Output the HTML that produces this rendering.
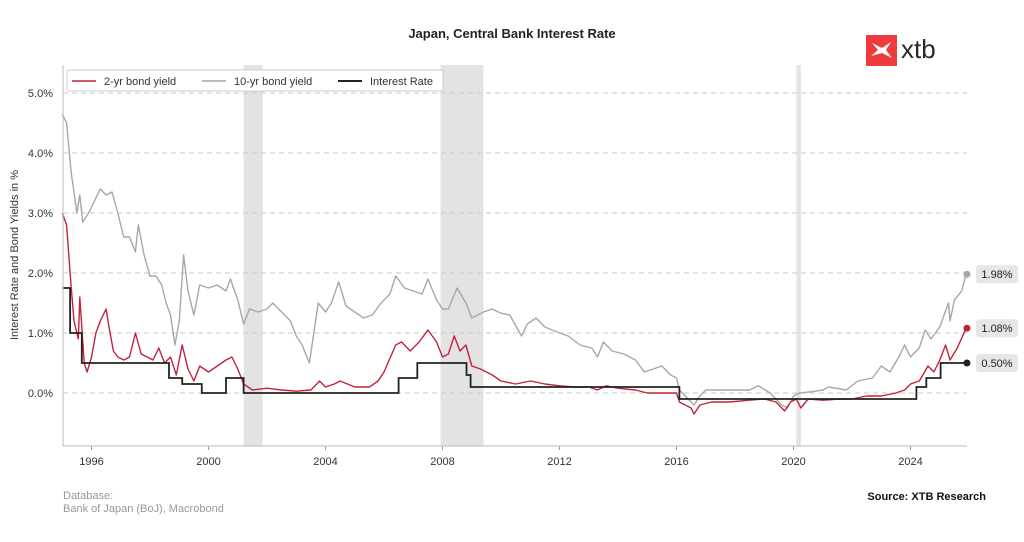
<!DOCTYPE html>
<html><head><meta charset="utf-8"><style>
html,body{margin:0;padding:0;background:#fff;width:1024px;height:542px;overflow:hidden}
svg{display:block;font-family:"Liberation Sans",Arial,sans-serif}
</style></head><body>
<svg id="chart" width="1024" height="542" viewBox="0 0 1024 542">
<text x="512" y="38" text-anchor="middle" font-size="13" font-weight="bold" fill="#222">Japan, Central Bank Interest Rate</text>
<g>
<rect x="866" y="35" width="31" height="31" fill="#ee3b3b"/>
<path d="M872 43 L882 48 L891 42 L886 50 L892 58 L882 53 L871 56 L878 50 Z" fill="#fff"/>
<text x="901" y="58" font-size="26" fill="#2a2a2a">xtb</text>
</g>
<g id="bands"></g><g id="grid"></g><g id="series"></g><g id="axes"></g>
<text transform="translate(18,255) rotate(-90)" text-anchor="middle" font-size="11" fill="#333">Interest Rate and Bond Yields in %</text>
<g>
<rect x="67" y="70" width="376" height="21" fill="#fff" stroke="#ccc" rx="2"/>
<line x1="72" y1="81" x2="96" y2="81" stroke="#c0243a" stroke-width="1.5"/>
<text x="104" y="85" font-size="11" fill="#333">2-yr bond yield</text>
<line x1="202" y1="81" x2="226" y2="81" stroke="#aaa7a3" stroke-width="1.5"/>
<text x="234" y="85" font-size="11" fill="#333">10-yr bond yield</text>
<line x1="338" y1="81" x2="362" y2="81" stroke="#222" stroke-width="2"/>
<text x="370" y="85" font-size="11" fill="#333">Interest Rate</text>
</g>
<text x="63" y="499" font-size="11" fill="#999">Database:</text>
<text x="63" y="512" font-size="11" fill="#999">Bank of Japan (BoJ), Macrobond</text>
<text x="986" y="500" text-anchor="end" font-size="11" font-weight="bold" fill="#111">Source: XTB Research</text>
</svg>
<script>
const yTicks=[0,1,2,3,4,5];
const xTicks=[1996,2000,2004,2008,2012,2016,2020,2024];
const recessions=[[2001.2,2001.85],[2007.93,2009.4],[2020.1,2020.25]];
const t10=[1995.0,1995.15,1995.3,1995.5,1995.6,1995.7,1995.9,1996.1,1996.3,1996.5,1996.7,1996.9,1997.1,1997.3,1997.5,1997.6,1997.8,1998.0,1998.2,1998.4,1998.55,1998.7,1998.85,1999.0,1999.15,1999.3,1999.5,1999.7,2000.0,2000.3,2000.6,2000.75,2001.0,2001.2,2001.4,2001.7,2002.0,2002.2,2002.5,2002.8,2003.0,2003.2,2003.45,2003.6,2003.75,2004.0,2004.2,2004.45,2004.7,2005.0,2005.3,2005.6,2005.9,2006.2,2006.4,2006.7,2007.0,2007.3,2007.5,2007.8,2008.0,2008.2,2008.5,2008.8,2009.0,2009.4,2009.7,2010.0,2010.3,2010.7,2010.9,2011.2,2011.5,2012.0,2012.3,2012.7,2013.1,2013.3,2013.5,2013.8,2014.2,2014.6,2014.9,2015.2,2015.5,2015.8,2016.0,2016.1,2016.4,2016.6,2016.8,2017.0,2017.5,2018.0,2018.5,2018.8,2019.2,2019.6,2019.8,2020.0,2020.2,2020.6,2021.0,2021.2,2021.8,2022.2,2022.7,2023.0,2023.3,2023.6,2023.8,2024.0,2024.3,2024.5,2024.7,2025.0,2025.3,2025.35,2025.5,2025.75,2025.9];
const v10=[4.65,4.5,3.7,3.0,3.3,2.85,3.0,3.2,3.4,3.3,3.35,3.0,2.6,2.6,2.35,2.8,2.3,1.95,1.95,1.8,1.5,1.3,0.8,1.2,2.3,1.7,1.3,1.8,1.75,1.8,1.7,1.9,1.55,1.15,1.4,1.35,1.4,1.5,1.35,1.2,0.95,0.8,0.5,1.0,1.5,1.35,1.5,1.85,1.45,1.35,1.25,1.3,1.5,1.65,1.95,1.75,1.7,1.65,1.9,1.55,1.4,1.4,1.75,1.5,1.25,1.35,1.4,1.33,1.3,0.95,1.15,1.25,1.1,1.0,0.95,0.8,0.75,0.6,0.85,0.7,0.65,0.55,0.35,0.4,0.45,0.3,0.25,0.05,-0.1,-0.2,-0.05,0.05,0.05,0.05,0.05,0.12,0.0,-0.2,-0.25,-0.05,0.0,0.02,0.05,0.1,0.05,0.2,0.25,0.45,0.35,0.6,0.8,0.6,0.75,1.05,0.9,1.1,1.5,1.2,1.55,1.7,1.98];
const t2=[1995.0,1995.15,1995.3,1995.4,1995.55,1995.6,1995.75,1995.85,1996.0,1996.15,1996.3,1996.5,1996.6,1996.75,1996.9,1997.1,1997.3,1997.5,1997.7,1997.9,1998.1,1998.3,1998.5,1998.7,1998.9,1999.1,1999.3,1999.5,1999.7,2000.0,2000.3,2000.6,2000.8,2001.0,2001.2,2001.5,2002.0,2002.5,2003.0,2003.5,2003.8,2004.0,2004.3,2004.5,2005.0,2005.5,2005.8,2006.0,2006.4,2006.6,2006.9,2007.2,2007.5,2007.8,2008.0,2008.2,2008.4,2008.6,2008.8,2009.0,2009.3,2009.7,2010.0,2010.5,2011.0,2011.5,2012.0,2012.5,2013.0,2013.3,2013.6,2014.0,2014.6,2015.0,2015.5,2016.0,2016.1,2016.5,2016.6,2016.8,2017.2,2017.8,2018.5,2019.0,2019.4,2019.7,2019.9,2020.1,2020.25,2020.5,2021.0,2021.6,2022.0,2022.5,2023.0,2023.5,2023.8,2024.0,2024.3,2024.6,2024.8,2025.0,2025.2,2025.35,2025.6,2025.9];
const v2=[3.0,2.8,1.8,1.2,0.9,1.6,0.5,0.35,0.6,1.0,1.2,1.4,1.1,0.7,0.6,0.55,0.6,1.0,0.65,0.6,0.55,0.75,0.5,0.6,0.3,0.8,0.4,0.2,0.45,0.35,0.45,0.55,0.6,0.4,0.15,0.05,0.08,0.05,0.03,0.05,0.2,0.1,0.15,0.2,0.1,0.1,0.2,0.35,0.8,0.85,0.7,0.85,1.05,0.85,0.6,0.65,0.95,0.7,0.8,0.45,0.4,0.3,0.2,0.15,0.2,0.15,0.12,0.1,0.1,0.05,0.12,0.08,0.05,0.0,0.0,0.0,-0.15,-0.25,-0.35,-0.2,-0.15,-0.15,-0.12,-0.1,-0.15,-0.3,-0.15,-0.1,-0.25,-0.1,-0.12,-0.1,-0.1,-0.05,-0.05,0.0,0.05,0.15,0.2,0.45,0.35,0.55,0.8,0.55,0.75,1.08];
const tRate=[1995.0,1995.27,1995.67,1998.65,1999.1,1999.77,2000.6,2001.2,2006.5,2007.14,2008.82,2008.96,2016.1,2024.2,2024.54,2025.03];
const vRate=[1.75,1.0,0.5,0.25,0.15,0.0,0.25,0.0,0.25,0.5,0.3,0.1,-0.1,0.1,0.25,0.5];
const endYear=2025.93;
const endLabels=["1.98%","1.08%","0.50%"];

const NS="http://www.w3.org/2000/svg";
const X=y=>91.5+(y-1996)*29.25;
const Y=v=>393-v*60;
const L=63,R=967,T=65,B=446;
function mk(tag,attrs,parent){const e=document.createElementNS(NS,tag);for(const k in attrs)e.setAttribute(k,attrs[k]);parent.appendChild(e);return e;}
const bands=document.getElementById('bands'),grid=document.getElementById('grid'),series=document.getElementById('series'),axes=document.getElementById('axes');
recessions.forEach(r=>{const e=mk('rect',{x:X(r[0]),y:T,width:X(r[1])-X(r[0]),height:B-T,fill:'#e3e3e3'},bands);

});
yTicks.forEach(v=>{const l=mk('line',{x1:L,x2:R,y1:Y(v),y2:Y(v),stroke:'#c8c8c8','stroke-dasharray':'5,4'},grid);


const t=mk('text',{x:L-10,y:Y(v)+4,'text-anchor':'end','font-size':11,fill:'#333'},axes);t.textContent=v.toFixed(1)+'%';

});
xTicks.forEach(y=>{mk('line',{x1:X(y),x2:X(y),y1:B,y2:B+4,stroke:'#999'},axes);
const t=mk('text',{x:X(y),y:B+19,'text-anchor':'middle','font-size':11,fill:'#333'},axes);t.textContent=y;

});
const ax=mk('path',{d:`M${L} ${T} V${B} H${R}`,stroke:'#bbb',fill:'none'},axes);


function line(ts,vs,col,w,name){const d=ts.map((t,i)=>(i?'L':'M')+X(t).toFixed(1)+' '+Y(vs[i]).toFixed(1)).join(' ');
const p=mk('path',{d,stroke:col,'stroke-width':w,fill:'none','stroke-linejoin':'round'},series);

}
line(t10,v10,'#aaa7a3',1.4,'line-10yr');
line(t2,v2,'#c0243a',1.4,'line-2yr');
let d='';tRate.forEach((t,i)=>{d+=(i?'H'+X(t).toFixed(1)+' V':'M'+X(t).toFixed(1)+' ')+Y(vRate[i]).toFixed(1)+' ';});d+='H'+X(endYear);
const rp=mk('path',{d,stroke:'#222','stroke-width':1.8,fill:'none'},series);


const ends=[[v10[v10.length-1],'#aaa7a3'],[v2[v2.length-1],'#c0243a'],[vRate[vRate.length-1],'#222']];
ends.forEach((e,i)=>{const c=mk('circle',{cx:X(endYear),cy:Y(e[0]),r:3.5,fill:e[1]},series);


const g=mk('g',{},series);


mk('rect',{x:976,y:Y(e[0])-9,width:42,height:18,rx:3,fill:'#e6e6e6'},g);
const t=mk('text',{x:997,y:Y(e[0])+4,'text-anchor':'middle','font-size':11,fill:'#222'},g);t.textContent=endLabels[i];});
</script>
</body></html>
